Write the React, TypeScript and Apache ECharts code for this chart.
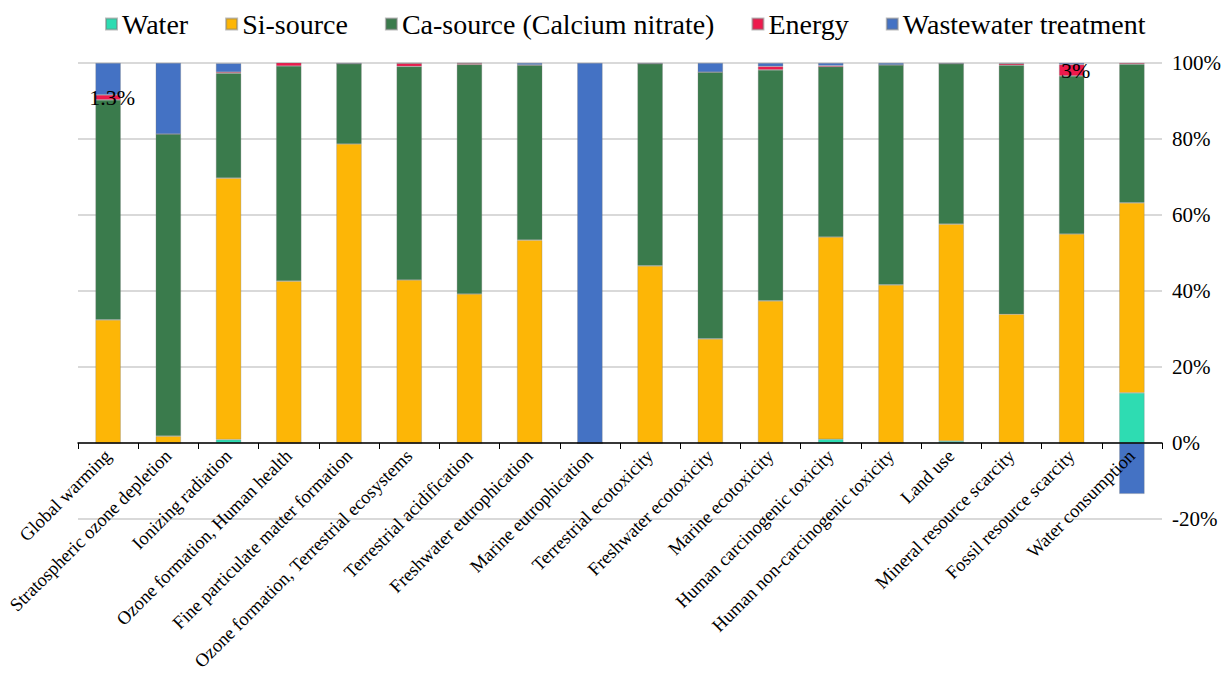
import React, { useEffect, useRef } from "react";
import * as echarts from "echarts";

const categories = [
  "Global warming",
  "Stratospheric ozone depletion",
  "Ionizing radiation",
  "Ozone formation, Human health",
  "Fine particulate matter formation",
  "Ozone formation, Terrestrial ecosystems",
  "Terrestrial acidification",
  "Freshwater eutrophication",
  "Marine eutrophication",
  "Terrestrial ecotoxicity",
  "Freshwater ecotoxicity",
  "Marine ecotoxicity",
  "Human carcinogenic toxicity",
  "Human non-carcinogenic toxicity",
  "Land use",
  "Mineral resource scarcity",
  "Fossil resource scarcity",
  "Water consumption",
];

const water = [0, 0, 0.9, 0, 0, 0, 0, 0, 0, 0, 0, 0, 1.0, 0, 0.5, 0, 0, 13.2];
const siSource = [32.4, 1.8, 68.8, 42.6, 78.7, 42.9, 39.2, 53.4, 0, 46.6, 27.4, 37.4, 53.2, 41.6, 57.1, 33.9, 55.0, 50.0];
const caSource = [57.9, 79.5, 27.6, 56.6, 21.1, 56.2, 60.4, 46.0, 0, 53.2, 70.2, 60.8, 44.8, 57.9, 42.2, 65.5, 41.6, 36.5];
const energy = [1.3, 0, 0.3, 0.9, 0, 0.8, 0.3, 0.1, 0, 0, 0, 0.9, 0.3, 0, 0, 0.4, 3.0, 0.3];
const wastewater = [8.4, 18.7, 2.3, 0.2, 0.2, 0.1, 0.1, 0.5, 100, 0.2, 2.4, 0.9, 0.7, 0.5, 0.2, 0.2, 0.4, -13.4];

const yTicks = { min: -20, max: 100, interval: 20 };
const energyLabels: Record<number, string> = { 0: "1.3%", 16: "3%" };

const FONT = "Liberation Serif";

export default function App() {
  const ref = useRef<HTMLDivElement>(null);
  useEffect(() => {
    document.body.style.margin = "0";
    if (!ref.current) return;
    const chart = echarts.init(ref.current, undefined, { renderer: "svg" });
    const barBase = {
      type: "bar" as const,
      stack: "total",
      barWidth: "42%",
      itemStyle: { borderColor: "rgba(120,120,120,0.5)", borderWidth: 0.6 },
    };
    chart.setOption({
      animation: false,
      textStyle: { fontFamily: FONT },
      legend: {
        top: 5,
        left: 100,
        itemWidth: 11,
        itemHeight: 11,
        itemGap: 37,
        icon: "rect",
        textStyle: {
          fontFamily: FONT,
          fontSize: 28,
          color: "#000",
        },
      },
      grid: { left: 78, right: 62, top: 63, bottom: 160, outerBoundsMode: "none", containLabel: false },
      xAxis: {
        type: "category",
        data: categories,
        offset: -76,
        z: 10,
        axisLine: { onZero: false, lineStyle: { color: "#000", width: 1.5 } },
        axisTick: { show: true, length: 6, lineStyle: { color: "#000" } },
        axisLabel: {
          rotate: 45,
          interval: 0,
          fontFamily: FONT,
          fontSize: 18.5,
          color: "#000",
          margin: 10,
        },
      },
      yAxis: {
        type: "value",
        position: "right",
        min: yTicks.min,
        max: yTicks.max,
        interval: yTicks.interval,
        axisLine: { show: false },
        axisTick: { show: false },
        splitLine: { lineStyle: { color: "#d9d9d9", width: 2 } },
        axisLabel: {
          formatter: "{value}%",
          fontFamily: FONT,
          fontSize: 21,
          color: "#000",
          margin: 10,
        },
      },
      series: [
        { ...barBase, name: "Water", data: water, itemStyle: { ...barBase.itemStyle, color: "#2edcb2" } },
        { ...barBase, name: "Si-source", data: siSource, itemStyle: { ...barBase.itemStyle, color: "#fdb606" } },
        { ...barBase, name: "Ca-source (Calcium nitrate)", data: caSource, itemStyle: { ...barBase.itemStyle, color: "#3a7b4c" } },
        {
          ...barBase,
          name: "Energy",
          data: energy.map((v, i) =>
            energyLabels[i]
              ? {
                  value: v,
                  label: {
                    show: true,
                    position: "inside",
                    offset: [4, 0],
                    formatter: energyLabels[i],
                    fontFamily: FONT,
                    fontSize: 22,
                    color: "#000",
                    textBorderWidth: 0,
                  },
                }
              : v
          ),
          itemStyle: { ...barBase.itemStyle, color: "#ee1a4d" },
        },
        { ...barBase, name: "Wastewater treatment", data: wastewater, itemStyle: { ...barBase.itemStyle, color: "#4472c4" } },
      ],
    });
    return () => chart.dispose();
  }, []);
  return <div ref={ref} style={{ width: 1224, height: 679 }} />;
}
